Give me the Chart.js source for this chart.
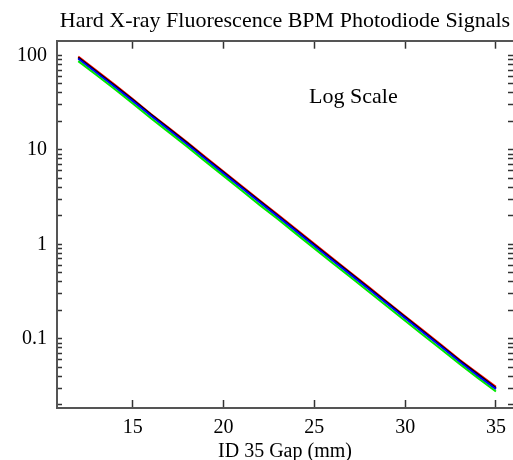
<!DOCTYPE html>
<html>
<head>
<meta charset="utf-8">
<script src="https://cdn.jsdelivr.net/npm/chart.js@4/dist/chart.umd.min.js"></script>
<style>
  html, body { margin: 0; padding: 0; background: #fff; }
  canvas { display: block; }
</style>
</head>
<body>
<canvas id="chart" width="513" height="460"></canvas>
<script>
// Undulator gap (mm) and the four photodiode signals
const gapMm = [12, 13, 14, 15, 16, 17, 18, 19, 20, 21, 22, 23, 24, 25, 26, 27, 28, 29, 30, 31, 32, 33, 34, 35];
const redSignal   = [97, 69, 49, 34.5, 24, 17, 12, 8.4, 5.9, 4.15, 2.9, 2.05, 1.44, 1.01, 0.71, 0.50, 0.352, 0.247, 0.173, 0.122, 0.086, 0.060, 0.043, 0.031];
const blackSignal = [95, 67.5, 48, 33.8, 23.6, 16.7, 11.8, 8.2, 5.8, 4.05, 2.85, 2.0, 1.41, 0.99, 0.695, 0.49, 0.345, 0.242, 0.170, 0.119, 0.084, 0.059, 0.042, 0.030];
const blueSignal  = [92, 65.5, 46.5, 32.8, 22.9, 16.2, 11.4, 8.0, 5.6, 3.95, 2.77, 1.95, 1.37, 0.96, 0.675, 0.475, 0.335, 0.235, 0.165, 0.116, 0.082, 0.057, 0.0405, 0.0293];
const greenSignal = [87, 62, 44, 31, 21.6, 15.3, 10.8, 7.55, 5.3, 3.72, 2.6, 1.84, 1.29, 0.905, 0.635, 0.447, 0.315, 0.221, 0.155, 0.109, 0.077, 0.054, 0.0385, 0.0277];

const xTickValues = [15, 20, 25, 30, 35];
const yTickLabels = ['0.1', '1', '10', '100'];
const yDecades = [0.01, 0.1, 1, 10, 100];

const X_MIN = 10.83, X_MAX = 35.94;
const Y_MIN = 0.0185, Y_MAX = 143;

// log-axis tick marks: every 1..9 multiple inside the range
const yTickValues = [];
yDecades.forEach(d => {
  for (let m = 1; m <= 9; m++) {
    const v = parseFloat((m * d).toPrecision(3));
    if (v >= Y_MIN && v <= Y_MAX) yTickValues.push(v);
  }
});

const serif = 'Liberation Serif';
const toPoints = ys => gapMm.map((g, i) => ({ x: g, y: ys[i] }));

const tickGrid = len => ({
  drawOnChartArea: false,
  drawTicks: true,
  tickLength: -len,
  tickColor: '#333',
  tickWidth: 1.5
});
const axisBorder = { display: true, color: '#555', width: 2 };

// fixed axis sizes, no extra room for overhanging labels
const fixHeight = h => s => { s.height = h; s.paddingLeft = 0; s.paddingRight = 0; };
const fixWidth = w => s => { s.width = w; s.paddingTop = 0; s.paddingBottom = 0; };

// "Log Scale" note inside the plot area
const notePlugin = {
  id: 'note',
  afterDatasetsDraw(chart) {
    const { ctx, chartArea: a } = chart;
    ctx.save();
    ctx.font = '22px "' + serif + '"';
    ctx.fillStyle = '#000';
    ctx.textAlign = 'center';
    ctx.textBaseline = 'middle';
    ctx.fillText('Log Scale', a.left + 0.65 * (a.right - a.left), a.top + 0.155 * (a.bottom - a.top));
    ctx.restore();
  }
};

const series = [
  { data: greenSignal, color: '#00e800' },
  { data: blueSignal,  color: '#0000ff' },
  { data: blackSignal, color: '#000000' },
  { data: redSignal,   color: '#ff0000' }
];

new Chart(document.getElementById('chart'), {
  type: 'line',
  data: {
    datasets: series.map(s => ({
      data: toPoints(s.data),
      borderColor: s.color,
      backgroundColor: s.color,
      borderWidth: 2,
      pointRadius: 0,
      tension: 0,
      xAxisID: 'x',
      yAxisID: 'y'
    }))
  },
  options: {
    responsive: false,
    animation: false,
    layout: { padding: 0, autoPadding: false },
    plugins: {
      legend: { display: false },
      tooltip: { enabled: false },
      title: {
        display: true,
        text: 'Hard X-ray Fluorescence BPM Photodiode Signals',
        fullSize: false,
        color: '#000',
        font: { family: serif, size: 22, weight: 'normal', lineHeight: 1.2 },
        padding: { top: 8, bottom: 6.3 }
      }
    },
    scales: {
      x: {
        type: 'linear', position: 'bottom', min: X_MIN, max: X_MAX, bounds: 'data',
        afterBuildTicks: s => { s.ticks = xTickValues.map(v => ({ value: v })); },
        afterFit: fixHeight(52),
        ticks: { color: '#000', font: { family: serif, size: 20 }, padding: 16, autoSkip: false, maxRotation: 0 },
        grid: tickGrid(8),
        border: axisBorder,
        title: { display: true, text: 'ID 35 Gap (mm)', color: '#000', font: { family: serif, size: 20, lineHeight: 0.8 }, padding: 0 }
      },
      xTop: {
        type: 'linear', position: 'top', min: X_MIN, max: X_MAX, bounds: 'data',
        afterBuildTicks: s => { s.ticks = xTickValues.map(v => ({ value: v })); },
        afterFit: fixHeight(0),
        ticks: { display: false },
        grid: tickGrid(8),
        border: axisBorder
      },
      y: {
        type: 'logarithmic', position: 'left', min: Y_MIN, max: Y_MAX, bounds: 'data',
        afterBuildTicks: s => { s.ticks = yTickValues.map(v => ({ value: v })); },
        afterFit: fixWidth(57),
        ticks: {
          color: '#000', font: { family: serif, size: 20 }, padding: 15, autoSkip: false,
          callback: v => { const t = yTickLabels.find(l => parseFloat(l) === v); return t === undefined ? '' : t; }
        },
        grid: tickGrid(5),
        border: axisBorder
      },
      yRight: {
        type: 'logarithmic', position: 'right', min: Y_MIN, max: Y_MAX, bounds: 'data',
        afterBuildTicks: s => { s.ticks = yTickValues.map(v => ({ value: v })); },
        afterFit: fixWidth(0),
        ticks: { display: false, autoSkip: false },
        grid: tickGrid(5),
        border: { display: false }
      }
    }
  },
  plugins: [notePlugin]
});
</script>
</body>
</html>
